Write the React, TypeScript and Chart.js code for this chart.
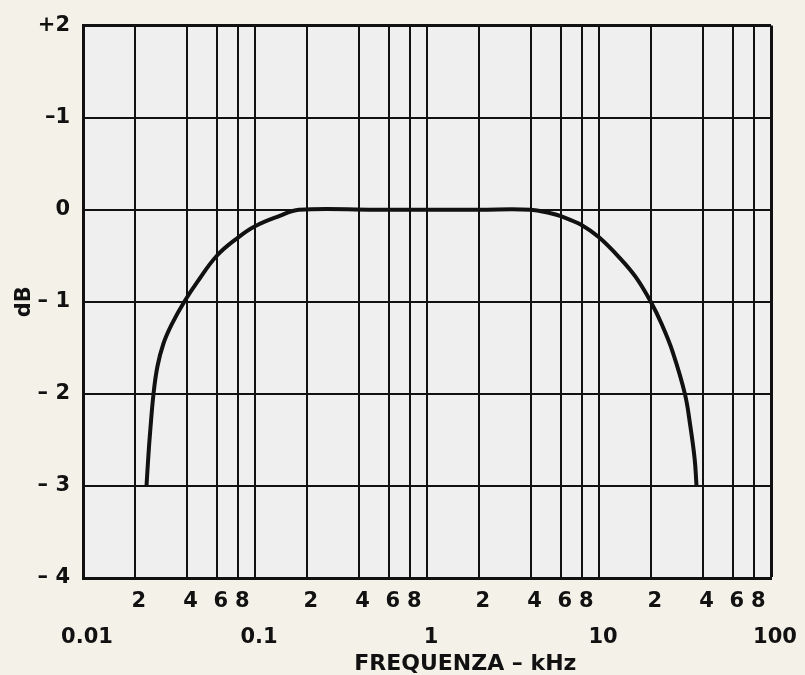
import React, { useEffect, useRef } from "react";
import { Chart, registerables } from "chart.js";

Chart.register(...registerables);

// Frequency response (kHz vs dB)
const freqKHz = [
  0.0234, 0.024, 0.0246, 0.0257, 0.0271, 0.0294, 0.0329, 0.0388, 0.046, 0.06, 0.08, 0.1, 0.138, 0.18,
  0.5, 1, 2, 4,
  5.16, 6, 8, 10, 13.14, 16.33, 20, 23.24, 26.77, 31.58, 33.9, 36.0, 36.9,
];
const responseDb = [
  -3, -2.67, -2.4, -2, -1.7, -1.45, -1.24, -1, -0.79, -0.5, -0.3, -0.18, -0.07, 0,
  0, 0, 0, 0,
  -0.035, -0.07, -0.17, -0.3, -0.52, -0.73, -1, -1.25, -1.54, -2, -2.34, -2.71, -3,
];

// X ticks (log grid) and their two label rows
const xTickValues = [0.01, 0.02, 0.04, 0.06, 0.08, 0.1, 0.2, 0.4, 0.6, 0.8, 1, 2, 4, 6, 8, 10, 20, 40, 60, 80, 100];
const xTickTop = ["", "2", "4", "6", "8", "", "2", "4", "6", "8", "", "2", "4", "6", "8", "", "2", "4", "6", "8", ""];
const xTickBottom = ["0.01", "", "", "", "", "0.1", "", "", "", "", "1", "", "", "", "", "10", "", "", "", "", "100"];

// Y ticks and labels as printed
const yTickValues = [2, 1, 0, -1, -2, -3, -4];
const yTickLabels = ["+2", "–1", "0", "– 1", "– 2", "– 3", "– 4"];

const FONT = "'DejaVu Sans', sans-serif";

const plotBg = {
  id: "plotBg",
  beforeDraw(chart: any) {
    const { ctx, chartArea } = chart;
    if (!chartArea) return;
    ctx.save();
    ctx.fillStyle = "#eeefee";
    ctx.fillRect(chartArea.left, chartArea.top, chartArea.width, chartArea.height);
    ctx.restore();
  },
};

export default function App() {
  const ref = useRef<HTMLCanvasElement | null>(null);

  useEffect(() => {
    if (!ref.current) return;
    const chart = new Chart(ref.current, {
      type: "line",
      data: {
        datasets: [
          {
            data: freqKHz.map((f, i) => ({ x: f, y: responseDb[i] })),
            borderColor: "#111111",
            borderWidth: 4,
            pointRadius: 0,
            fill: false,
            tension: 0.4,
            borderCapStyle: "butt",
            borderJoinStyle: "round",
          },
        ],
      },
      options: {
        animation: false,
        responsive: true,
        maintainAspectRatio: false,
        layout: { padding: { top: 22, right: 34, left: 0, bottom: 0 } },
        plugins: { legend: { display: false }, tooltip: { enabled: false } },
        scales: {
          x: {
            type: "logarithmic",
            min: 0.01,
            max: 100,
            afterBuildTicks: (scale: any) => {
              scale.ticks = xTickValues.map((v) => ({ value: v }));
            },
            afterFit: (scale: any) => {
              scale.height = 97;
            },
            ticks: {
              autoSkip: false,
              maxRotation: 0,
              minRotation: 0,
              padding: 5,
              labelOffset: 4,
              color: "#111",
              font: { family: FONT, size: 21, weight: "bold", lineHeight: 1.72 },
              callback: (_v: any, i: number) => [xTickTop[i], xTickBottom[i]],
            },
            grid: {
              color: "#111",
              lineWidth: (c: any) => (c.index === xTickValues.length - 1 ? 3 : 2),
              drawTicks: false,
            },
            border: { display: true, color: "#111", width: 3 },
            title: {
              display: true,
              text: "          FREQUENZA – kHz",
              color: "#111",
              font: { family: FONT, size: 22, weight: "bold", lineHeight: 1.0 },
              padding: { top: 0, bottom: 0 },
            },
          },
          y: {
            type: "linear",
            min: -4,
            max: 2,
            afterBuildTicks: (scale: any) => {
              scale.ticks = yTickValues.map((v) => ({ value: v }));
            },
            afterFit: (scale: any) => {
              scale.width = 83;
            },
            ticks: {
              padding: 13,
              color: "#111",
              font: { family: FONT, size: 21, weight: "bold" },
              callback: (v: any) => {
                const i = yTickValues.indexOf(Number(v));
                return i >= 0 ? yTickLabels[i] : "";
              },
            },
            grid: {
              color: "#111",
              lineWidth: (c: any) => (c.tick && c.tick.value === 2 ? 3 : 2),
              drawTicks: false,
            },
            border: { display: true, color: "#111", width: 3 },
            title: {
              display: true,
              text: "dB",
              color: "#111",
              font: { family: FONT, size: 21, weight: "bold" },
              padding: { top: 12, bottom: 0 },
            },
          },
        },
      },
      plugins: [plotBg],
    } as any);
    return () => chart.destroy();
  }, []);

  return (
    <div
      style={{
        position: "fixed",
        left: 0,
        top: 0,
        width: 805,
        height: 675,
        background: "#f3f1e8",
      }}
    >
      <canvas ref={ref} />
    </div>
  );
}
